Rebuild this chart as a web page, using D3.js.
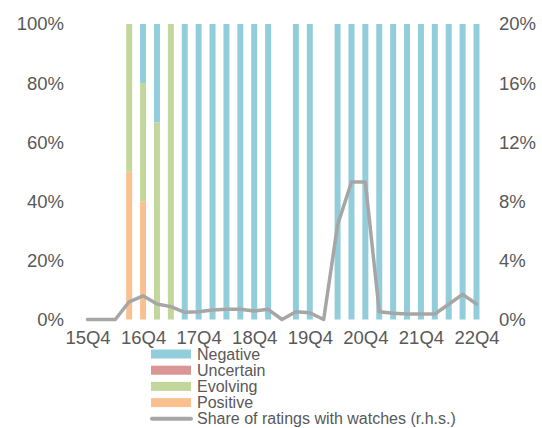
<!DOCTYPE html>
<html>
<head>
<meta charset="utf-8">
<script src="https://cdn.jsdelivr.net/npm/d3@7"></script>
<style>
  html, body { margin: 0; padding: 0; background: #fff; }
  svg { display: block; }
  text { font-family: "Liberation Sans", Arial, sans-serif; fill: #595959; }
</style>
</head>
<body>
<svg id="chart" width="542" height="428"></svg>
<script>
const quarters = ["15Q4","16Q1","16Q2","16Q3","16Q4","17Q1","17Q2","17Q3","17Q4","18Q1","18Q2","18Q3","18Q4",
  "19Q1","19Q2","19Q3","19Q4","20Q1","20Q2","20Q3","20Q4","21Q1","21Q2","21Q3","21Q4","22Q1","22Q2","22Q3","22Q4"];
const xTickLabels = ["15Q4","16Q4","17Q4","18Q4","19Q4","20Q4","21Q4","22Q4"];
const negative  = [0,0,0,0,20,33.3,0,100,100,100,100,100,100,100,0,100,100,0,100,100,100,100,100,100,100,100,100,100,100];
const uncertain = [0,0,0,0,0,0,0,0,0,0,0,0,0,0,0,0,0,0,0,0,0,0,0,0,0,0,0,0,0];
const evolving  = [0,0,0,50,40,66.7,100,0,0,0,0,0,0,0,0,0,0,0,0,0,0,0,0,0,0,0,0,0,0];
const positive  = [0,0,0,50,40,0,0,0,0,0,0,0,0,0,0,0,0,0,0,0,0,0,0,0,0,0,0,0,0];
const watches   = [0,0,0,1.2,1.6,1.05,0.87,0.49,0.53,0.64,0.69,0.69,0.57,0.69,0,0.53,0.46,0,6.4,9.3,9.3,0.53,0.42,0.37,0.37,0.37,1.03,1.7,1.05];
const leftTicks = [0,20,40,60,80,100];
const rightTicks = [0,4,8,12,16,20];

const seriesNames = ["Positive","Evolving","Uncertain","Negative"];
const colors = {Negative:"#92CDDC", Uncertain:"#D99694", Evolving:"#C3D69B", Positive:"#FAC090"};
const lineColor = "#A6A6A6";

const svg = d3.select("#chart");
const rows = quarters.map((q,i) => ({q, Positive: positive[i], Evolving: evolving[i], Uncertain: uncertain[i], Negative: negative[i]}));

const x = d3.scalePoint().domain(quarters).range([87.5, 476.5]);
const yL = d3.scaleLinear().domain([0,100]).range([319.5, 24]);
const yR = d3.scaleLinear().domain([0,20]).range([319.5, 24]);
const barW = 6;

const stack = d3.stack().keys(seriesNames)(rows);
svg.append("g").selectAll("g").data(stack).join("g")
  .attr("fill", d => colors[d.key])
  .selectAll("rect").data(d => d).join("rect")
  .attr("x", d => x(d.data.q) - barW/2)
  .attr("width", barW)
  .attr("y", d => yL(d[1]))
  .attr("height", d => Math.max(0, yL(d[0]) - yL(d[1])));

const line = d3.line().x((d,i) => x(quarters[i])).y(d => yR(d));
svg.append("path").datum(watches)
  .attr("d", line).attr("fill","none")
  .attr("stroke", lineColor).attr("stroke-width", 3.5)
  .attr("stroke-linejoin","round").attr("stroke-linecap","round");

// Left axis
const axL = svg.append("g").attr("transform","translate(64,0)")
  .call(d3.axisLeft(yL).tickValues(leftTicks).tickSize(0).tickPadding(0).tickFormat(d => d + "%"));
axL.select(".domain").remove();
axL.selectAll("text").style("font-size","18.5px").style("fill","#595959").style("font-family","Liberation Sans, Arial, sans-serif");

// Right axis
const axR = svg.append("g").attr("transform","translate(499,0)")
  .call(d3.axisRight(yR).tickValues(rightTicks).tickSize(0).tickPadding(0).tickFormat(d => d + "%"));
axR.select(".domain").remove();
axR.selectAll("text").style("font-size","18.5px").style("fill","#595959").style("font-family","Liberation Sans, Arial, sans-serif");

// Bottom axis
const axB = svg.append("g").attr("transform","translate(0,320)")
  .call(d3.axisBottom(x).tickValues(xTickLabels).tickSize(0).tickPadding(11));
axB.select(".domain").remove();
axB.selectAll("text").style("font-size","18.5px").style("fill","#595959").style("font-family","Liberation Sans, Arial, sans-serif");

// Legend
const legendItems = ["Negative","Uncertain","Evolving","Positive"];
const lg = svg.append("g");
legendItems.forEach((k,i) => {
  const cy = 354 + i*16.2;
  lg.append("rect").attr("x",151).attr("y",cy-4.5).attr("width",40).attr("height",9).attr("fill",colors[k]);
  lg.append("text").attr("x",197).attr("y",cy).attr("dy","0.35em").style("font-size","16px").text(k);
});
const ly = 354 + 4*16.2;
lg.append("line").attr("x1",152).attr("x2",191).attr("y1",ly).attr("y2",ly)
  .attr("stroke",lineColor).attr("stroke-width",4).attr("stroke-linecap","round");
lg.append("text").attr("x",197).attr("y",ly).attr("dy","0.35em").style("font-size","16px").text("Share of ratings with watches (r.h.s.)");
</script>
</body>
</html>
